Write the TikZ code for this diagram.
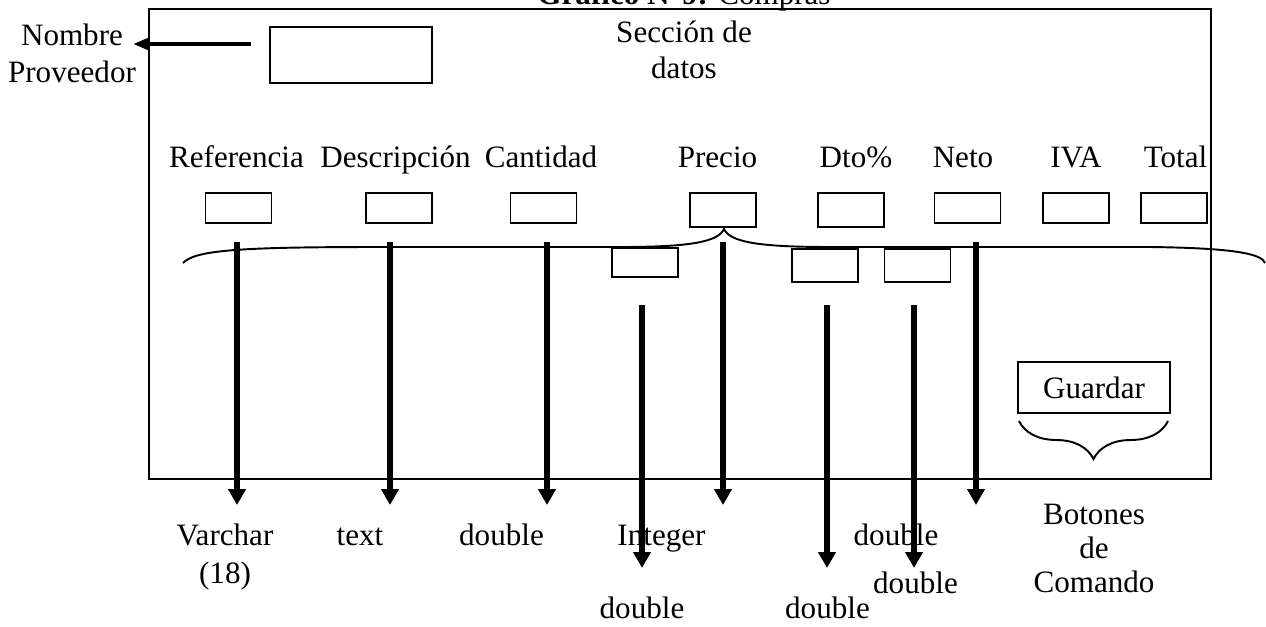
\documentclass[tikz,border=0pt]{standalone}
\usepackage{fontspec}
\setmainfont{Liberation Serif}
\usepackage{tikz}
\usetikzlibrary{arrows.meta, decorations.pathreplacing}
\tikzset{
  fieldbox/.style={rectangle, draw, line width=1.1pt, inner sep=0pt,
    minimum width=1.32cm, minimum height=0.6cm},
  lbl/.style={anchor=base, inner sep=0pt, align=center},
  downarrow/.style={-{Triangle[width=0.34cm, length=0.32cm]}, line width=0.11cm},
  line/.style={line width=1.1pt}
}

\begin{document}
\begin{tikzpicture}[x=0.02cm, y=-0.02cm,
    font=\fontsize{17.7}{0.74cm}\selectfont]
  \useasboundingbox (0,0) rectangle (1266,626);

  % Form frame and title
  \draw[line] (149,9) rectangle (1211,479);
  \node[lbl] (title) at (684,4) {\textbf{Gráfico N°9:} Compras};
  \node[lbl, font=\fontsize{17.7}{0.72cm}\selectfont] (seccion) at (684,78) {Sección de\\datos};

  % Supplier name
  \node[fieldbox, minimum width=3.24cm, minimum height=1.12cm] (nombre) at (351,55) {};
  \node[lbl] (nombrelbl) at (72,82) {Nombre\\Proveedor};
  \coordinate (nstart) at (251,44);
  \coordinate (nend) at (133,44);
  \draw[-{Triangle[width=0.22cm, length=0.3cm]}, line width=0.08cm] (nstart) -- (nend);

  % Column headings
  \node[lbl] (hRef)   at (236.5,167) {Referencia};
  \node[lbl] (hDesc)  at (395.5,167) {Descripción};
  \node[lbl] (hCant)  at (541,167)   {Cantidad};
  \node[lbl] (hPrec)  at (717.5,167) {Precio};
  \node[lbl] (hDto)   at (856,167)   {Dto\%};
  \node[lbl] (hNeto)  at (963,167)   {Neto};
  \node[lbl] (hIva)   at (1076,167)  {IVA};
  \node[lbl] (hTotal) at (1175.5,167) {Total};

  % Input fields
  \node[fieldbox] (ref)   at (238.5,208) {};
  \node[fieldbox] (desc)  at (399,208)   {};
  \node[fieldbox] (cant)  at (543.5,208) {};
  \node[fieldbox, minimum height=0.68cm] (prec) at (723,210) {};
  \node[fieldbox, minimum height=0.68cm] (dto)  at (851,210) {};
  \node[fieldbox] (neto)  at (967.5,208) {};
  \node[fieldbox] (iva)   at (1076,208)  {};
  \node[fieldbox] (total) at (1174,208)  {};
  \node[fieldbox, minimum height=0.58cm] (precA) at (645,262.5) {};
  \node[fieldbox, minimum height=0.66cm] (dtoA)  at (825,265.5) {};
  \node[fieldbox, minimum height=0.66cm] (dtoB)  at (917.5,265.5) {};

  % Big brace under the fields
  \draw[line] (183,263) .. controls (195,250) and (240,247) .. (380,247)
    -- (620,247) .. controls (690,247) and (718,242) .. (724,229)
    .. controls (730,242) and (758,247) .. (830,247)
    -- (1150,247) .. controls (1235,248) and (1262,254) .. (1265,263);

  % Command button
  \node[fieldbox, minimum width=3.04cm, minimum height=1.02cm] (guardar) at (1094,387.5) {Guardar};
  \coordinate (gR) at (1168,421);
  \coordinate (gL) at (1019,421);
  \draw[line, decorate, decoration={brace, amplitude=0.76cm}] (gR) -- (gL);
  \node[lbl, font=\fontsize{17.7}{0.68cm}\selectfont] (botones) at (1094,592) {Botones\\de\\Comando};

  % Data types
  \node[lbl, font=\fontsize{17.7}{0.76cm}\selectfont] (tRef) at (225,583) {Varchar\\(18)};
  \node[lbl] (tDesc) at (360,545)   {text};
  \node[lbl] (tCant) at (501.5,545) {double};
  \node[lbl] (tInt)  at (661.5,545) {Integer};
  \node[lbl] (tNeto) at (896,545)   {double};
  \node[lbl] (tDtoB) at (915.5,593) {double};
  \node[lbl] (tPrec) at (642,618)   {double};
  \node[lbl] (tDtoA) at (827.5,618) {double};

  % Arrows to the types
  \foreach \nm/\x in {r/237, d/390, c/547, p/723, n/976} {
    \coordinate (\nm top) at (\x,242);
    \coordinate (\nm tip) at (\x,505);
    \draw[downarrow] (\nm top) -- (\nm tip);
  }
  \foreach \nm/\x in {pa/642, da/827, db/914} {
    \coordinate (\nm top) at (\x,305);
    \coordinate (\nm tip) at (\x,568);
    \draw[downarrow] (\nm top) -- (\nm tip);
  }
\end{tikzpicture}
\end{document}
